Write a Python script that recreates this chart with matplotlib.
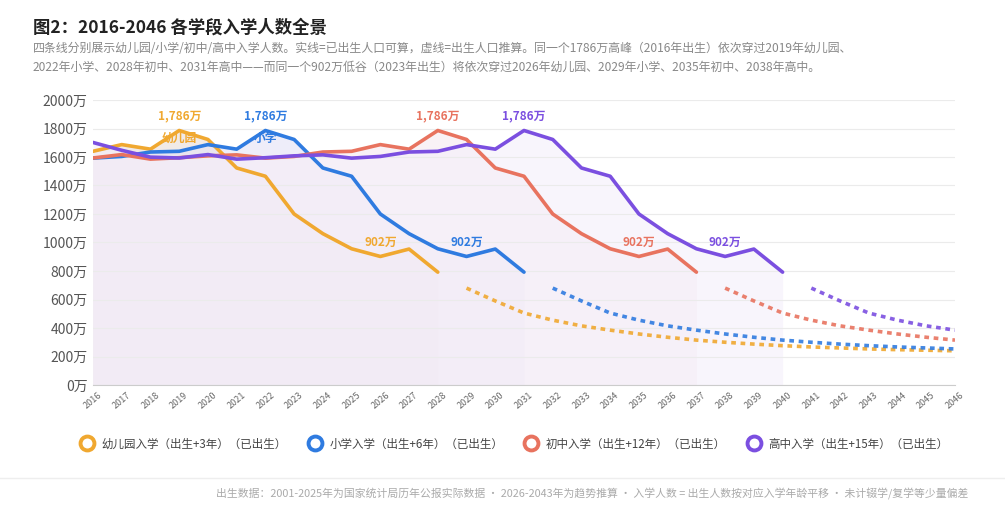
import matplotlib
matplotlib.use("Agg")
import matplotlib.pyplot as plt
from matplotlib.lines import Line2D

plt.rcParams['font.family'] = ['Noto Sans CJK SC', 'DejaVu Sans']

birth_years = list(range(2001, 2026))
births = [1702, 1647, 1599, 1593, 1617, 1585, 1595, 1608, 1615, 1592, 1604, 1635,
          1640, 1687, 1655, 1786, 1723, 1523, 1465, 1200, 1062, 956, 902, 954, 792]
proj_years = list(range(2026, 2044))
proj_births = [680, 590, 505, 455, 415, 385, 358, 335, 315, 300, 287, 276, 267, 260, 253, 248, 244, 240]

names = ['幼儿园入学（出生+3年）（已出生）', '小学入学（出生+6年）（已出生）',
         '初中入学（出生+12年）（已出生）', '高中入学（出生+15年）（已出生）']
offsets = [3, 6, 12, 15]
colors = ['#F0A830', '#2F7BE0', '#E8735F', '#7B4FE0']
fills = ['#E9DDD8', '#E4E2F6', '#F6EAF0', '#F4EFFA']
tags = ['幼儿园', '小学', '', '']

fig = plt.figure(figsize=(10.05, 5.12), dpi=100)
ax = fig.add_axes([93/1005, 1-385/512, 862/1005, 285/512])

for off, c, f, tag in zip(offsets, colors, fills, tags):
    xs = [y + off for y in birth_years]
    pts = [(x, v) for x, v in zip(xs, births) if x >= 2016]
    px, pv = zip(*pts)
    ax.fill_between(px, pv, 0, color=f, alpha=0.6, lw=0, zorder=1)
    ax.plot(px, pv, color=c, lw=2.6, zorder=3, solid_capstyle='round', solid_joinstyle='round')
    qx = [y + off for y in proj_years]
    q = [(x, v) for x, v in zip(qx, proj_births) if x <= 2046]
    if q:
        qx2, qv2 = zip(*q)
        ax.plot(qx2, qv2, color=c, lw=2.6, ls=(0, (1.3, 1.3)), zorder=3, alpha=0.9)
    pk = 2016 + off
    tr = 2023 + off
    ax.text(pk, 1786 + 55, '1,786万', color=c, ha='center', va='bottom', fontsize=8.5, fontweight='bold', zorder=4)
    if tag:
        ax.text(pk, 1786 - 10, tag, color=c, ha='center', va='top', fontsize=8.5, fontweight='bold', zorder=4)
    ax.text(tr, 902 + 55, '902万', color=c, ha='center', va='bottom', fontsize=8.5, fontweight='bold', zorder=4)

ax.set_xlim(2016, 2046)
ax.set_ylim(0, 2000)
ax.set_yticks(range(0, 2001, 200))
ax.set_yticklabels([f'{v}万' for v in range(0, 2001, 200)], fontsize=10, color='#555555')
ax.set_xticks(range(2016, 2047))
ax.set_xticklabels([str(y) for y in range(2016, 2047)], rotation=40, fontsize=6.5, color='#666666')
ax.tick_params(length=0, pad=4)
ax.grid(axis='y', color='#EBEBEB', lw=0.8, zorder=0)
for s in ['top', 'right', 'left']:
    ax.spines[s].set_visible(False)
ax.spines['bottom'].set_color('#CCCCCC')

fig.text(33/1005, 1-28/512, '图2：2016-2046 各学段入学人数全景', fontsize=12.5, fontweight='bold', color='#222222', va='center')
fig.text(33/1005, 1-49/512, '四条线分别展示幼儿园/小学/初中/高中入学人数。实线=已出生人口可算，虚线=出生人口推算。同一个1786万高峰（2016年出生）依次穿过2019年幼儿园、',
         fontsize=8.6, color='#888888', va='center')
fig.text(33/1005, 1-67/512, '2022年小学、2028年初中、2031年高中——而同一个902万低谷（2023年出生）将依次穿过2026年幼儿园、2029年小学、2035年初中、2038年高中。',
         fontsize=8.6, color='#888888', va='center')

handles = [Line2D([], [], marker='o', ls='none', markersize=10, markerfacecolor='white',
                  markeredgecolor=c, markeredgewidth=2.8) for c in colors]
fig.legend(handles, names, loc='center', bbox_to_anchor=(512/1005, 1-444/512), ncol=4,
           frameon=False, fontsize=8.3, handletextpad=0.3, columnspacing=1.4, labelcolor='#444444')

fig.add_artist(Line2D([0, 1], [1-478/512, 1-478/512], color='#EEEEEE', lw=1))
fig.text(968/1005, 1-494/512, '出生数据：2001-2025年为国家统计局历年公报实际数据 · 2026-2043年为趋势推算 · 入学人数 = 出生人数按对应入学年龄平移 · 未计辍学/复学等少量偏差',
         fontsize=7.8, color='#AAAAAA', ha='right', va='center')

fig.savefig('out.png', dpi=100, facecolor='white')
